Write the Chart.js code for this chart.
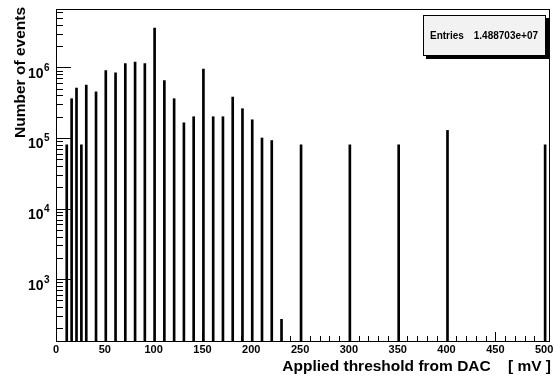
<!DOCTYPE html>
<html>
<head>
<meta charset="utf-8">
<script src="https://cdn.jsdelivr.net/npm/chart.js@4/dist/chart.umd.min.js"></script>
<style>
  html, body { margin: 0; padding: 0; background: #fff; }
  canvas { display: block; }
</style>
</head>
<body>
<canvas id="chart" width="553" height="375"></canvas>
<script>
// DAC threshold settings (mV) and the number of events recorded at each
const thresholds = [10, 15, 20, 25, 30, 40, 50, 60, 70, 80, 90, 100, 110, 120, 130, 140, 150,
                    160, 170, 180, 190, 200, 210, 220, 230, 250, 300, 350, 400, 500];
const events = [8.0e4, 3.6e5, 5.1e5, 8.0e4, 5.6e5, 4.5e5, 9.0e5, 8.4e5, 1.13e6, 1.19e6, 1.13e6,
                3.6e6, 6.5e5, 3.6e5, 1.64e5, 2.0e5, 9.5e5, 2.0e5, 2.0e5, 3.8e5, 2.6e5, 1.81e5,
                1.0e5, 9.2e4, 270, 8.0e4, 8.0e4, 8.0e4, 1.28e5, 8.0e4];
const binWidth = 2;
const xTickLabels = [0, 50, 100, 150, 200, 250, 300, 350, 400, 450, 500];
const yTickLabels = [3, 4, 5, 6]; // decades, drawn as 10^n
const entries = '1.488703e+07';

const FONT = '"Liberation Sans", Arial, Helvetica, sans-serif';

// ROOT style frame, inward ticks, labels, titles and stats box
const rootStyle = {
    id: 'rootStyle',
    afterDraw(chart) {
        const { ctx, chartArea: a, scales: { x, y } } = chart;
        ctx.save();

        // ticks
        ctx.strokeStyle = '#000';
        ctx.lineWidth = 1;
        ctx.beginPath();
        for (let v = 0; v <= x.max; v += 10) {
            const px = Math.round(x.getPixelForValue(v)) + 0.5;
            const len = v % 50 === 0 ? 9 : 5;
            ctx.moveTo(px, a.bottom);
            ctx.lineTo(px, a.bottom - len);
        }
        for (let d = 2; d <= 6; d++) {
            for (let m = 1; m <= 9; m++) {
                const v = m * Math.pow(10, d);
                if (v < y.min || v > y.max) continue;
                const py = Math.round(y.getPixelForValue(v)) + 0.5;
                const len = m === 1 ? 15 : 7;
                ctx.moveTo(a.left, py);
                ctx.lineTo(a.left + len, py);
            }
        }
        ctx.stroke();

        // frame
        ctx.strokeRect(a.left + 0.5, a.top + 0.5, a.right - a.left - 1, a.bottom - a.top);

        ctx.fillStyle = '#000';

        // x tick labels
        ctx.font = 'bold 11px ' + FONT;
        ctx.textAlign = 'center';
        ctx.textBaseline = 'alphabetic';
        xTickLabels.forEach(v => {
            ctx.fillText(String(v), x.getPixelForValue(v), 353);
        });

        // y tick labels 10^n
        yTickLabels.forEach(n => {
            const py = y.getPixelForValue(Math.pow(10, n));
            ctx.textAlign = 'right';
            ctx.font = 'bold 14px ' + FONT;
            ctx.fillText('10', 43.5, py + 10.5);
            ctx.textAlign = 'left';
            ctx.font = 'bold 10px ' + FONT;
            ctx.fillText(String(n), 44, py + 3.5);
        });

        // axis titles
        ctx.font = 'bold 15.5px ' + FONT;
        ctx.textAlign = 'right';
        ctx.fillText('Applied threshold from DAC    [ mV ]', 551, 371);

        ctx.save();
        ctx.translate(25, 7);
        ctx.rotate(-Math.PI / 2);
        ctx.fillText('Number of events', 0, 0);
        ctx.restore();

        // stats box
        const bx = 423, by = 15, bw = 123, bh = 41;
        ctx.fillStyle = '#000';
        ctx.fillRect(bx + 3, by + 3, bw, bh);
        ctx.fillStyle = '#f2f2f2';
        ctx.fillRect(bx, by, bw, bh);
        ctx.strokeStyle = '#000';
        ctx.strokeRect(bx + 0.5, by + 0.5, bw - 1, bh - 1);
        ctx.fillStyle = '#000';
        ctx.font = 'bold 10px ' + FONT;
        ctx.textAlign = 'left';
        ctx.fillText('Entries', 430, 38.5);
        ctx.textAlign = 'right';
        ctx.fillText(entries, 538, 38.5);

        ctx.restore();
    }
};

const ctx = document.getElementById('chart').getContext('2d');
new Chart(ctx, {
    type: 'bar',
    data: {
        datasets: [{
            data: thresholds.map((t, i) => ({ x: t + binWidth / 2, y: events[i] })),
            backgroundColor: '#000',
            borderWidth: 0,
            barThickness: 2
        }]
    },
    options: {
        responsive: false,
        animation: false,
        layout: {
            padding: { left: 56, right: 3, top: 9, bottom: 34 }
        },
        scales: {
            x: { type: 'linear', min: 0, max: 506, offset: false, display: false },
            y: { type: 'logarithmic', min: 133, max: 6.72e6, display: false }
        },
        plugins: {
            legend: { display: false },
            tooltip: { enabled: false }
        }
    },
    plugins: [rootStyle]
});
</script>
</body>
</html>
